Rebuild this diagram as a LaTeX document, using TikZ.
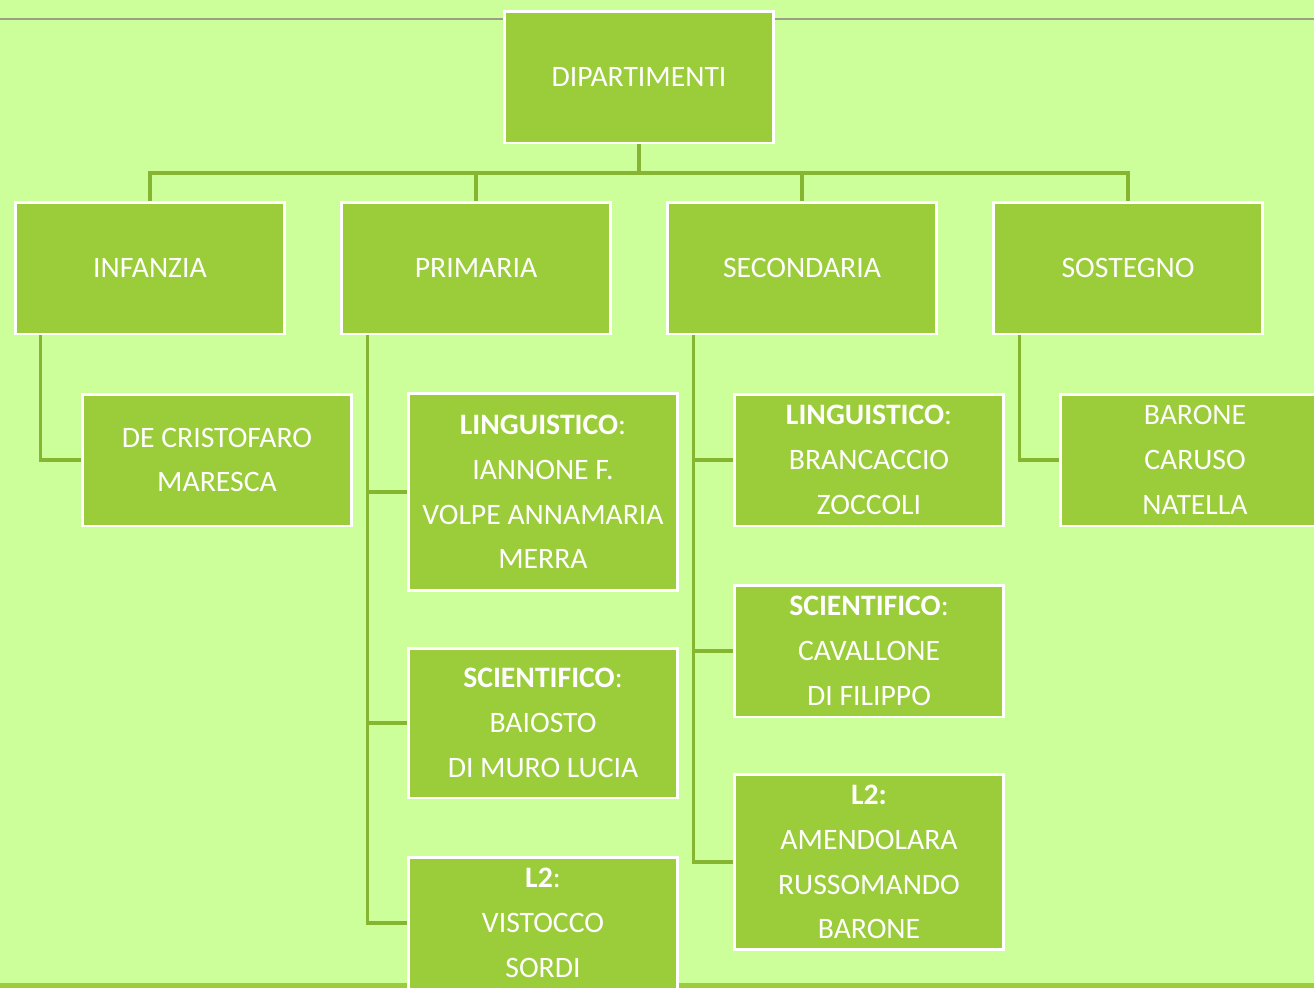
\documentclass[tikz,border=0pt]{standalone}
\usepackage{fontspec}
\setmainfont{Carlito}
\definecolor{sfondo}{HTML}{CCFF99}
\definecolor{verde}{HTML}{9BCC3A}
\definecolor{linea}{HTML}{86B532}
\definecolor{grigio}{HTML}{9A9F86}
\tikzstyle{box}=[rectangle,draw=white,line width=1.7pt,fill=verde,text=white,align=center,minimum width=5.37cm,minimum height=2.64cm,inner sep=0pt,font=\fontsize{16.9}{25.5}\selectfont]
\tikzstyle{link}=[draw=linea,line width=1.8pt]

\begin{document}
\begin{tikzpicture}[x=0.02cm,y=-0.02cm]
	\clip (0,0) rectangle (1314,988);
	\fill[sfondo] (0,0) rectangle (1314,988);
	\draw[grigio,line width=1.2pt] (0,19) -- (1314,19);
	\fill[verde] (0,983) rectangle (1314,988);
	\coordinate (bus) at (0,173);
	% livello 1 e 2
	\node[box] (dip) at (639,77) {DIPARTIMENTI};
	\node[box] (inf) at (150,268) {INFANZIA};
	\node[box] (prim) at (476,268) {PRIMARIA};
	\node[box] (sec) at (802,268) {SECONDARIA};
	\node[box] (sos) at (1128,268) {SOSTEGNO};
	% docenti
	\node[box] (infdoc) at (217,460) {DE CRISTOFARO\\MARESCA};
	\node[box,minimum height=3.95cm] (primling) at (543,492) {\textbf{LINGUISTICO}:\\IANNONE F.\\VOLPE ANNAMARIA\\MERRA};
	\node[box,minimum height=3cm] (primsci) at (543,723) {\textbf{SCIENTIFICO}:\\BAIOSTO\\DI MURO LUCIA};
	\node[box] (priml2) at (543,923) {\textbf{L2}:\\VISTOCCO\\SORDI};
	\node[box] (secling) at (869,460) {\textbf{LINGUISTICO}:\\BRANCACCIO\\ZOCCOLI};
	\node[box] (secsci) at (869,651) {\textbf{SCIENTIFICO}:\\CAVALLONE\\DI FILIPPO};
	\node[box,minimum height=3.5cm] (secl2) at (869,862) {\textbf{L2:}\\AMENDOLARA\\RUSSOMANDO\\BARONE};
	\node[box] (sosdoc) at (1195,460) {BARONE\\CARUSO\\NATELLA};
	% collegamenti
	\draw[link] (dip.south) -- (dip.south |- bus);
	\draw[link] (inf.north) -- (inf.north |- bus) -- (sos.north |- bus) -- (sos.north);
	\draw[link] (prim.north) -- (prim.north |- bus);
	\draw[link] (sec.north) -- (sec.north |- bus);
	\draw[link] (inf.south west) ++(26,0) |- (infdoc.west);
	\draw[link] (prim.south west) ++(27,0) |- (primling.west);
	\draw[link] (prim.south west) ++(27,0) |- (primsci.west);
	\draw[link] (prim.south west) ++(27,0) |- (priml2.west);
	\draw[link] (sec.south west) ++(27,0) |- (secling.west);
	\draw[link] (sec.south west) ++(27,0) |- (secsci.west);
	\draw[link] (sec.south west) ++(27,0) |- (secl2.west);
	\draw[link] (sos.south west) ++(27,0) |- (sosdoc.west);
\end{tikzpicture}
\end{document}
